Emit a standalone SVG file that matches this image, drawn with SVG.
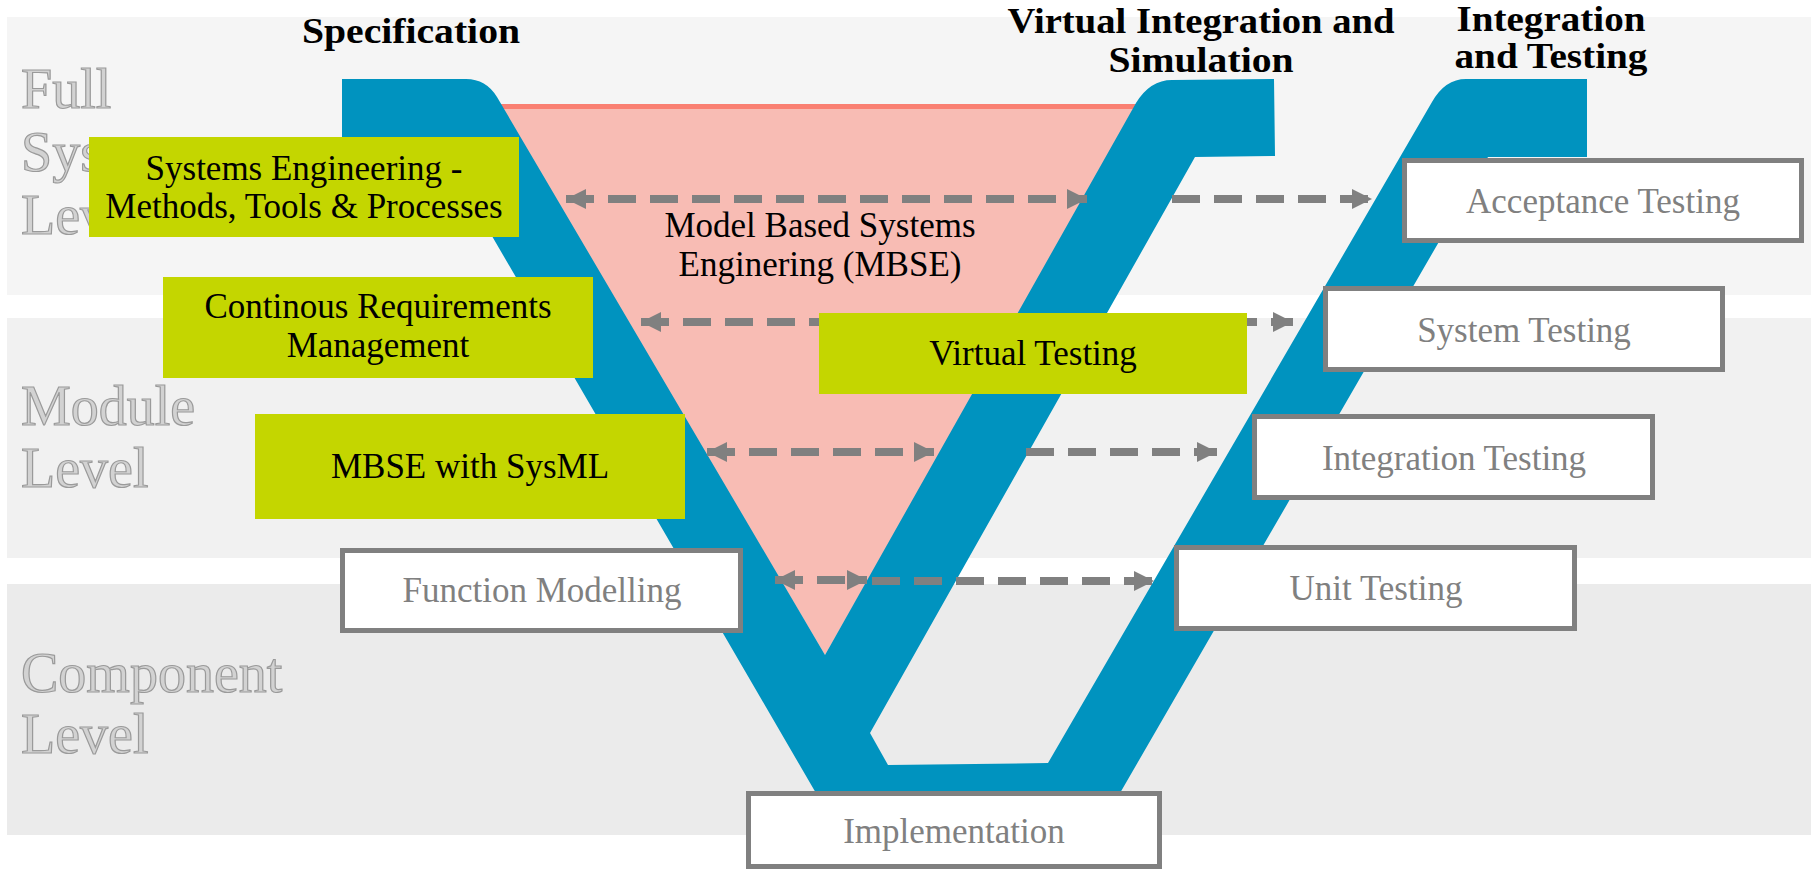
<svg xmlns="http://www.w3.org/2000/svg" width="1811" height="870" viewBox="0 0 1811 870">
<defs>
<style>
.lvl{font-family:'Liberation Serif','Times New Roman',serif;font-size:56px;fill:#d2d2d2;stroke:#9a9a9a;stroke-width:1.2}
.title{font-family:'Liberation Serif','Times New Roman',serif;font-size:36px;font-weight:bold;fill:#000;text-anchor:middle}
.gbox{fill:#c4d600}
.gtxt{font-family:'Liberation Serif','Times New Roman',serif;font-size:35px;fill:#000;text-anchor:middle}
.wbox{fill:#fff;stroke:#808080;stroke-width:5}
.wtxt{font-family:'Liberation Serif','Times New Roman',serif;font-size:35px;fill:#808080;text-anchor:middle}
.conn{stroke:#808080;stroke-width:8;stroke-dasharray:28 14;fill:none}
.two{marker-start:url(#ah);marker-end:url(#ah)}
.one{marker-end:url(#ah)}
</style>
<marker id="ah" markerUnits="userSpaceOnUse" markerWidth="20" markerHeight="20" refX="20" refY="10" orient="auto-start-reverse" viewBox="0 0 20 20"><path d="M0,0 L20,10 L0,20 Z" fill="#808080"/></marker>
</defs>
<rect width="1811" height="870" fill="#ffffff"/>
<g id="bands">
<rect x="7" y="17" width="1804" height="278" fill="#f5f5f5"/>
<rect x="7" y="318" width="1804" height="240" fill="#f1f1f1"/>
<rect x="7" y="584" width="1804" height="251" fill="#ebebeb"/>
</g>
<g id="levels">
<text class="lvl" x="21" y="108">Full</text>
<text class="lvl" x="21" y="171">System</text>
<text class="lvl" x="21" y="234">Level</text>
<text class="lvl" x="21" y="425">Module</text>
<text class="lvl" x="21" y="487">Level</text>
<text class="lvl" x="21" y="692">Component</text>
<text class="lvl" x="21" y="753">Level</text>
</g>
<g id="mbse-area">
<polygon points="498,104 1140,104 825,655" fill="#f8bcb4"/>
<rect x="498" y="104" width="642" height="5" fill="#fa8072"/>
<text class="gtxt" x="820" y="237">Model Based Systems</text>
<text class="gtxt" x="820" y="276">Enginering (MBSE)</text>
</g>
<g id="v-shape">
<path fill="#0093bf" d="M342,79 L466,79 Q486,79 497,97 L825,655 L1136,103 Q1150,80 1172,80 L1274,79 L1275,156 L1195,157 L870,733 L888,765 L1048,763 L1432,102 Q1445,79 1466,79 L1587,79 L1587,157 L1488,157 L1116,800 L820,800 L446,157 L342,157 Z"/>
</g>
<g id="connectors">
<line class="conn two" x1="566" y1="199" x2="1087" y2="199"/>
<line class="conn one" x1="1172" y1="199" x2="1372" y2="199"/>
<line class="conn two" x1="641" y1="322" x2="1293" y2="322"/>
<line class="conn two" x1="707" y1="452" x2="934" y2="452"/>
<line class="conn one" x1="1026" y1="452" x2="1217" y2="452"/>
<line class="conn two" x1="775" y1="580" x2="867" y2="580"/>
<line class="conn one" x1="872" y1="581" x2="1154" y2="581"/>
</g>
<g id="titles">
<text class="title" x="411" y="43" textLength="218" lengthAdjust="spacingAndGlyphs">Specification</text>
<text class="title" x="1201" y="33" textLength="387" lengthAdjust="spacingAndGlyphs">Virtual Integration and</text>
<text class="title" x="1201" y="72" textLength="185" lengthAdjust="spacingAndGlyphs">Simulation</text>
<text class="title" x="1551" y="31" textLength="189" lengthAdjust="spacingAndGlyphs">Integration</text>
<text class="title" x="1551" y="68" textLength="193" lengthAdjust="spacingAndGlyphs">and Testing</text>
</g>
<g id="node-se">
<rect class="gbox" x="89" y="137" width="430" height="100"/>
<text class="gtxt" x="304" y="180">Systems Engineering -</text>
<text class="gtxt" x="304" y="218">Methods, Tools &amp; Processes</text>
</g>
<g id="node-crm">
<rect class="gbox" x="163" y="277" width="430" height="101"/>
<text class="gtxt" x="378" y="318">Continous Requirements</text>
<text class="gtxt" x="378" y="357">Management</text>
</g>
<g id="node-sysml">
<rect class="gbox" x="255" y="414" width="430" height="105"/>
<text class="gtxt" x="470" y="478">MBSE with SysML</text>
</g>
<g id="node-vt">
<rect class="gbox" x="819" y="313" width="428" height="81"/>
<text class="gtxt" x="1033" y="365">Virtual Testing</text>
</g>
<g id="node-acc">
<rect class="wbox" x="1404.5" y="160.5" width="397" height="80"/>
<text class="wtxt" x="1603" y="213">Acceptance Testing</text>
</g>
<g id="node-sys">
<rect class="wbox" x="1325.5" y="288.5" width="397" height="81"/>
<text class="wtxt" x="1524" y="342">System Testing</text>
</g>
<g id="node-int">
<rect class="wbox" x="1254.5" y="416.5" width="398" height="81"/>
<text class="wtxt" x="1454" y="470">Integration Testing</text>
</g>
<g id="node-unit">
<rect class="wbox" x="1176.5" y="547.5" width="398" height="81"/>
<text class="wtxt" x="1376" y="600">Unit Testing</text>
</g>
<g id="node-fm">
<rect class="wbox" x="342.5" y="550.5" width="398" height="80"/>
<text class="wtxt" x="542" y="602">Function Modelling</text>
</g>
<g id="node-impl">
<rect class="wbox" x="748.5" y="793.5" width="411" height="73"/>
<text class="wtxt" x="954" y="843">Implementation</text>
</g>
</svg>
